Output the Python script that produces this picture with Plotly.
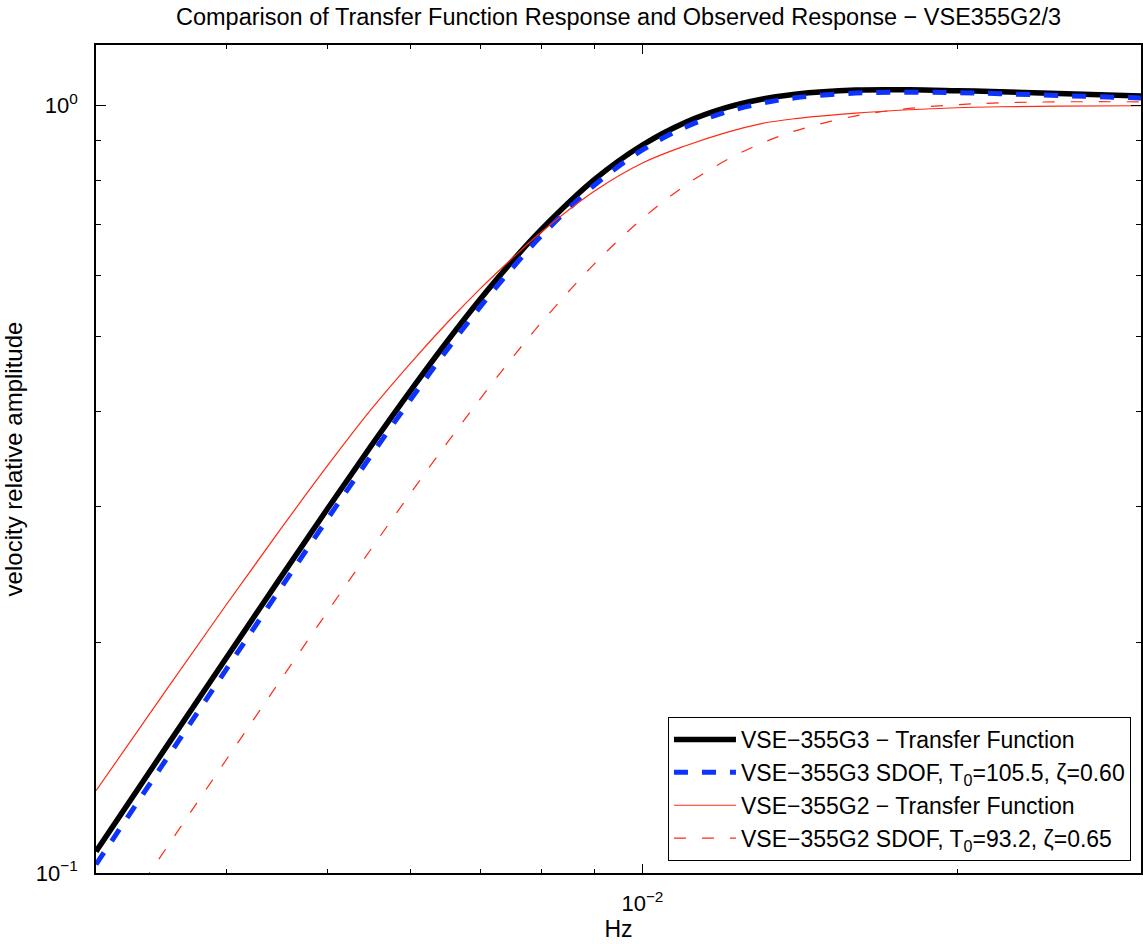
import plotly.graph_objects as go

# ---------------- data ----------------
freq_hz = [0.003, 0.0035, 0.004, 0.0045, 0.005, 0.0055, 0.006, 0.0065, 0.007, 0.0075,
           0.008, 0.009, 0.01, 0.011, 0.012, 0.013, 0.014, 0.016, 0.018, 0.02,
           0.022, 0.025, 0.03]

g3_transfer = [0.1067, 0.1458, 0.1909, 0.2421, 0.2988, 0.3603, 0.4253, 0.4925, 0.5602, 0.6264,
               0.6894, 0.8017, 0.8888, 0.9516, 0.9934, 1.0197, 1.0354, 1.0482, 1.0490, 1.0462,
               1.0431, 1.0375, 1.0299]

g3_sdof = [0.1026, 0.1405, 0.1845, 0.2344, 0.2899, 0.3501, 0.4141, 0.4805, 0.5476, 0.6135,
           0.6766, 0.7883, 0.8757, 0.9384, 0.9806, 1.0076, 1.0241, 1.0388, 1.0417, 1.0399,
           1.0369, 1.0313, 1.0238]

g2_transfer = [0.128, 0.173, 0.224, 0.280, 0.340, 0.402, 0.462, 0.521, 0.578, 0.632,
               0.684, 0.774, 0.842, 0.887, 0.922, 0.948, 0.962, 0.978, 0.988, 0.994,
               0.997, 0.999, 1.000]

g2_sdof = [0.0789, 0.1076, 0.1407, 0.1780, 0.2194, 0.2644, 0.3126, 0.3632, 0.4155, 0.4686,
           0.5214, 0.6226, 0.7128, 0.7880, 0.8478, 0.8934, 0.9273, 0.9700, 0.9920, 1.0032,
           1.0087, 1.0118, 1.0119]

series_names = [
    "VSE\u2212355G3 \u2212 Transfer Function",
    "VSE\u2212355G3 SDOF, T<sub>0</sub>=105.5, \u03b6=0.60",
    "VSE\u2212355G2 \u2212 Transfer Function",
    "VSE\u2212355G2 SDOF, T<sub>0</sub>=93.2, \u03b6=0.65",
]

x_major_ticks = [0.01]
x_major_text = ["10<sup>\u22122</sup>"]
x_minor_ticks = [0.004, 0.005, 0.006, 0.007, 0.008, 0.009, 0.02]
y_major_ticks = [0.1, 1.0]
y_major_text = ["10<sup>\u22121</sup>", "10<sup>0</sup>"]
y_minor_ticks = [0.2, 0.3, 0.4, 0.5, 0.6, 0.7, 0.8, 0.9]

title_text = "Comparison of Transfer Function Response and Observed Response \u2212 VSE355G2/3"

# ---------------- figure ----------------
FONT = "Liberation Sans, Arial, Helvetica, sans-serif"

fig = go.Figure()
fig.add_trace(go.Scatter(x=freq_hz, y=g3_transfer, mode="lines", name=series_names[0],
                         line=dict(color="black", width=5.5, shape="spline")))
fig.add_trace(go.Scatter(x=freq_hz, y=g3_sdof, mode="lines", name=series_names[1],
                         line=dict(color="#0d33ff", width=5, dash="14px,14px", shape="spline")))
fig.add_trace(go.Scatter(x=freq_hz, y=g2_transfer, mode="lines", name=series_names[2],
                         line=dict(color="#ff2a14", width=1.2, shape="spline")))
fig.add_trace(go.Scatter(x=freq_hz, y=g2_sdof, mode="lines", name=series_names[3],
                         line=dict(color="#ff2a14", width=1.2, dash="12px,16px", shape="spline")))

axis_common = dict(
    type="log", showgrid=False, zeroline=False,
    showline=True, linecolor="black", linewidth=1.5, mirror="ticks",
    ticks="inside", tickcolor="black", tickwidth=1,
    tickfont=dict(family=FONT, size=22, color="black"),
)

fig.update_layout(
    width=1143, height=944,
    margin=dict(l=96, r=0, t=45, b=71, pad=0),
    paper_bgcolor="white", plot_bgcolor="white",
    font=dict(family=FONT, color="black"),
    title=dict(text=title_text, x=0.5, xref="paper", xanchor="center",
               y=1 - 17 / 944, yref="container", yanchor="middle",
               font=dict(family=FONT, size=23.5, color="black")),
    xaxis=dict(axis_common, range=[-2.5229, -1.5229],
               tickmode="array", tickvals=x_major_ticks, ticktext=x_major_text, ticklen=9,
               ticklabelstandoff=10,
               minor=dict(tickmode="array", tickvals=x_minor_ticks, ticks="inside",
                          ticklen=4, tickcolor="black", tickwidth=1, showgrid=False),
               title=dict(text="Hz", font=dict(family=FONT, size=23, color="black"), standoff=3)),
    yaxis=dict(axis_common, range=[-1, 0.07918],
               tickmode="array", tickvals=y_major_ticks, ticktext=y_major_text, ticklen=10,
               ticklabelstandoff=12,
               minor=dict(tickmode="array", tickvals=y_minor_ticks, ticks="inside",
                          ticklen=5, tickcolor="black", tickwidth=1, showgrid=False),
               title=dict(text="velocity relative amplitude",
                          font=dict(family=FONT, size=24, color="black"), standoff=8)),
    legend=dict(x=0.9904, y=0.0145, xanchor="right", yanchor="bottom",
                bgcolor="white", bordercolor="black", borderwidth=1,
                font=dict(family=FONT, size=23, color="black"),
                itemwidth=62, tracegroupgap=0),
    showlegend=True,
)

fig.write_html("out.html")
